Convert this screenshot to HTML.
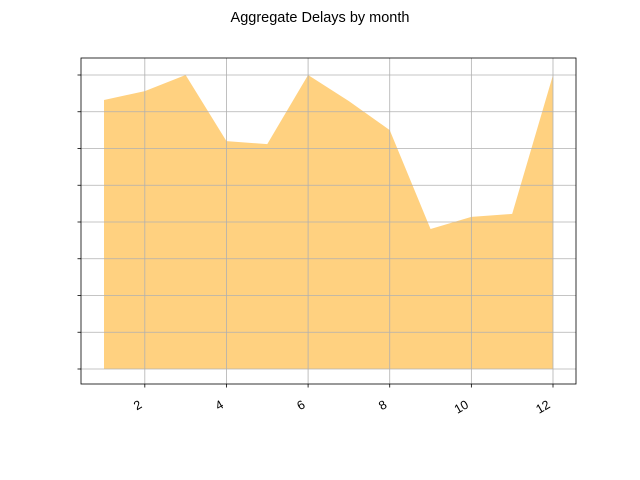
<!DOCTYPE html>
<html><head><meta charset="utf-8"><style>body{margin:0;background:#fff}svg{display:block}</style></head>
<body>
<svg id="chart" width="640" height="480" xmlns="http://www.w3.org/2000/svg" font-family="'Liberation Sans', 'DejaVu Sans', sans-serif">
<text x="320" y="22" text-anchor="middle" font-size="14.5">Aggregate Delays by month</text>
<g id="plot"></g>
</svg>
<script>
const months = [1,2,3,4,5,6,7,8,9,10,11,12];
const delays = [7.32,7.56,8.0,6.2,6.12,8.0,7.29,6.5,3.81,4.14,4.22,8.0];
const xTicks = [2,4,6,8,10,12];
const yTicks = [0,1,2,3,4,5,6,7,8];
const L=81,R=576,T=58,B=384;
const xs=v=>104+(v-1)*(553-104)/11;
const ys=v=>369-v*(369-75)/8;
const NS='http://www.w3.org/2000/svg';
const g=document.getElementById('plot');
function mk(t,a){const e=document.createElementNS(NS,t);for(const k in a)e.setAttribute(k,a[k]);g.appendChild(e);return e;}
let d='M'+xs(months[0])+','+ys(0);
months.forEach((m,i)=>{d+=' L'+xs(m)+','+ys(delays[i]);});
d+=' L'+xs(months[months.length-1])+','+ys(0)+' Z';
const area=mk('path',{d:d,fill:'#ffd180',stroke:'none'});


xTicks.forEach(t=>{
  const x=xs(t);
  const gl=mk('line',{x1:x,x2:x,y1:T,y2:B,stroke:'#b0b0b0','stroke-width':0.8});
  
  
  mk('line',{x1:x,x2:x,y1:B,y2:B+3.5,stroke:'#000','stroke-width':0.8});
  const ax=x-2, ay=B+23;
  const tx=mk('text',{x:ax,y:ay,'font-size':12.5,'text-anchor':'end',transform:'rotate(-30 '+ax+' '+ay+')'});
  tx.textContent=t;
  
  
});
yTicks.forEach(t=>{
  const y=ys(t);
  const gl=mk('line',{x1:L,x2:R,y1:y,y2:y,stroke:'#b0b0b0','stroke-width':0.8});
  
  
  mk('line',{x1:L-3.5,x2:L,y1:y,y2:y,stroke:'#000','stroke-width':0.8});
});
const fr=mk('rect',{x:L,y:T,width:R-L,height:B-T,fill:'none',stroke:'#000','stroke-width':0.8});


</script>
</body></html>
